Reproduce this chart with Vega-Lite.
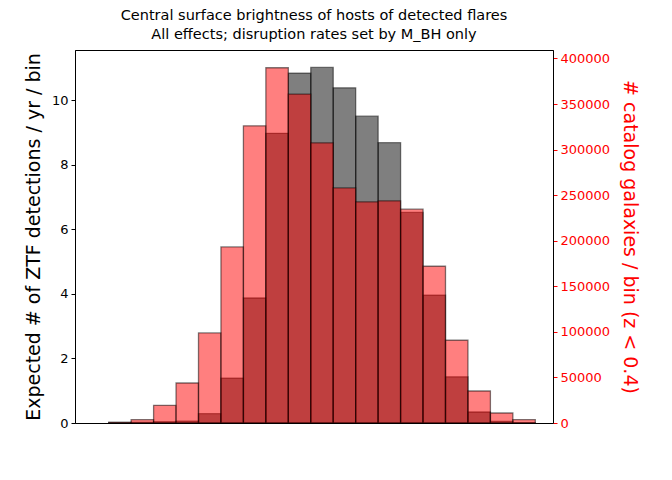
{
  "$schema": "https://vega.github.io/schema/vega-lite/v6.json",
  "width": 478,
  "height": 373,
  "autosize": {"type": "none"},
  "padding": {"left": 75, "top": 50, "right": 119, "bottom": 57},
  "background": "white",
  "config": {
    "font": "DejaVu Sans",
    "view": {"stroke": "black", "strokeWidth": 1},
    "axis": {"grid": false, "labelFontSize": 13, "titleFontSize": 19, "titleFontWeight": "normal", "labelColor": "black", "titleColor": "black", "domainColor": "black", "tickColor": "black", "tickSize": 4, "labelPadding": 3}
  },
  "title": {
    "text": ["Central surface brightness of hosts of detected flares", "All effects; disruption rates set by M_BH only"],
    "fontSize": 14.5,
    "fontWeight": "normal",
    "lineHeight": 19,
    "anchor": "middle",
    "offset": 8,
    "color": "black"
  },
  "data": {
    "values": [
      {"lo": 23.4, "hi": 23.0, "ztf": 0.02, "galaxies": 600},
      {"lo": 23.0, "hi": 22.6, "ztf": 0.02, "galaxies": 3700},
      {"lo": 22.6, "hi": 22.2, "ztf": 0.04, "galaxies": 19400},
      {"lo": 22.2, "hi": 21.8, "ztf": 0.06, "galaxies": 43900},
      {"lo": 21.8, "hi": 21.4, "ztf": 0.29, "galaxies": 98800},
      {"lo": 21.4, "hi": 21.0, "ztf": 1.39, "galaxies": 193200},
      {"lo": 21.0, "hi": 20.6, "ztf": 3.87, "galaxies": 326100},
      {"lo": 20.6, "hi": 20.2, "ztf": 8.97, "galaxies": 389800},
      {"lo": 20.2, "hi": 19.8, "ztf": 10.83, "galaxies": 360900},
      {"lo": 19.8, "hi": 19.4, "ztf": 11.01, "galaxies": 307400},
      {"lo": 19.4, "hi": 19.0, "ztf": 10.38, "galaxies": 258000},
      {"lo": 19.0, "hi": 18.6, "ztf": 9.5, "galaxies": 242700},
      {"lo": 18.6, "hi": 18.2, "ztf": 8.68, "galaxies": 243800},
      {"lo": 18.2, "hi": 17.8, "ztf": 6.52, "galaxies": 234600},
      {"lo": 17.8, "hi": 17.4, "ztf": 3.96, "galaxies": 172000},
      {"lo": 17.4, "hi": 17.0, "ztf": 1.43, "galaxies": 90800},
      {"lo": 17.0, "hi": 16.6, "ztf": 0.34, "galaxies": 35100},
      {"lo": 16.6, "hi": 16.2, "ztf": 0.05, "galaxies": 11000},
      {"lo": 16.2, "hi": 15.8, "ztf": 0.01, "galaxies": 3700}
    ]
  },
  "layer": [
    {
      "mark": {"type": "bar", "fill": "black", "fillOpacity": 0.5, "stroke": "black", "strokeOpacity": 0.5, "strokeWidth": 1.3},
      "encoding": {
        "x": {
          "field": "lo",
          "type": "quantitative",
          "scale": {"domain": [15.485, 24], "reverse": true, "nice": false, "zero": false},
          "axis": {"orient": "bottom", "values": [16, 17, 18, 19, 20, 21, 22, 23, 24], "format": "d", "title": "μ₀.₁ (mag arcsec⁻²)", "titlePadding": 5}
        },
        "x2": {"field": "hi"},
        "y": {
          "field": "ztf",
          "type": "quantitative",
          "scale": {"domain": [0, 11.55], "nice": false},
          "axis": {"orient": "left", "values": [0, 2, 4, 6, 8, 10], "title": "Expected # of ZTF detections / yr / bin", "titlePadding": 8}
        },
        "y2": {"datum": 0}
      }
    },
    {
      "mark": {"type": "bar", "fill": "red", "fillOpacity": 0.5, "stroke": "black", "strokeOpacity": 0.5, "strokeWidth": 1.3},
      "encoding": {
        "x": {"field": "lo", "type": "quantitative", "axis": null},
        "x2": {"field": "hi"},
        "y": {
          "field": "galaxies",
          "type": "quantitative",
          "scale": {"domain": [0, 409300], "nice": false},
          "axis": {"orient": "right", "values": [0, 50000, 100000, 150000, 200000, 250000, 300000, 350000, 400000], "format": "d", "title": "# catalog galaxies / bin (z < 0.4)", "labelColor": "red", "tickColor": "red", "titleColor": "red", "domainColor": "black", "titlePadding": 10}
        },
        "y2": {"datum": 0}
      }
    }
  ],
  "resolve": {"scale": {"y": "independent"}}
}
